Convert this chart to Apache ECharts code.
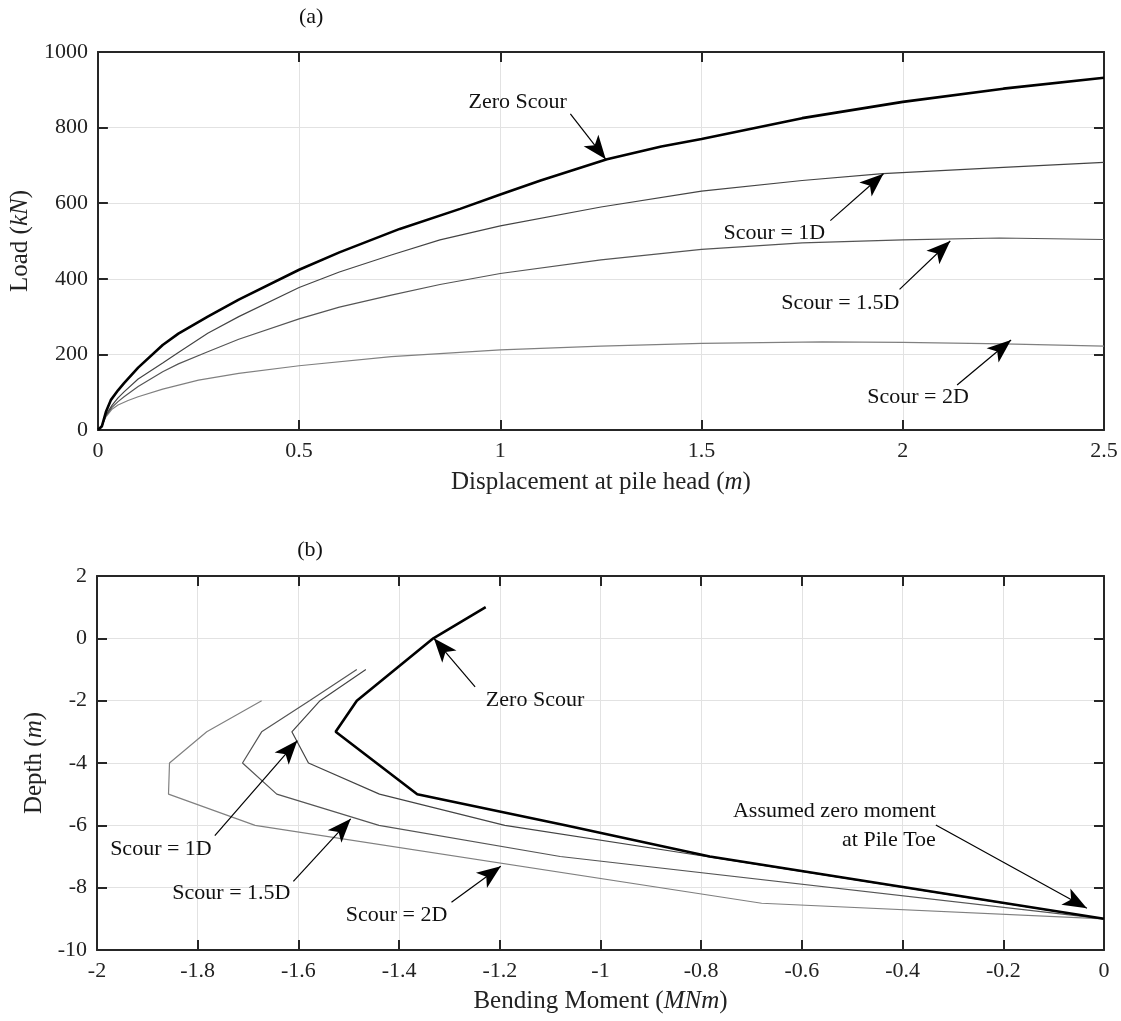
<!DOCTYPE html>
<html>
<head>
<meta charset="utf-8">
<script src="https://cdn.jsdelivr.net/npm/echarts@6/dist/echarts.min.js"></script>
<style>html,body{margin:0;padding:0;background:#fff}#c{width:1121px;height:1021px}</style>
</head>
<body>
<div id="c"></div>
<script>
// ---------- (a) Load vs displacement ----------
var zeroScourA = [[0,0],[0.01,10],[0.02,48],[0.032,79],[0.05,105],[0.065,124],[0.1,165],[0.161,225],[0.2,255],[0.273,300],[0.35,345],[0.5,424],[0.6,470],[0.75,532],[0.9,585],[1.0,623],[1.1,660],[1.265,716],[1.4,750],[1.5,770],[1.75,825],[2.0,868],[2.25,903],[2.5,932]];
var scour1DA = [[0,0],[0.01,10],[0.02,40],[0.035,65],[0.05,85],[0.065,101],[0.1,135],[0.161,177],[0.2,205],[0.273,256],[0.35,300],[0.5,377],[0.6,418],[0.729,463],[0.85,503],[1.0,540],[1.25,590],[1.5,632],[1.75,660],[1.95,678],[2.25,695],[2.5,708]];
var scour15DA = [[0,0],[0.01,10],[0.02,38],[0.035,60],[0.05,75],[0.065,88],[0.1,115],[0.161,154],[0.2,175],[0.273,207],[0.35,240],[0.5,294],[0.6,325],[0.729,357],[0.85,385],[1.0,414],[1.25,450],[1.5,478],[1.75,495],[2.0,503],[2.24,508],[2.5,504]];
var scour2DA = [[0,0],[0.01,12],[0.02,35],[0.035,55],[0.05,66],[0.075,78],[0.1,88],[0.161,108],[0.25,132],[0.35,150],[0.5,170],[0.729,194],[1.0,212],[1.25,222],[1.5,229],[1.8,233],[2.0,232],[2.25,228],[2.5,222]];

// ---------- (b) Bending moment vs depth ----------
var zeroScourB = [[-1.228,1],[-1.332,0],[-1.408,-1],[-1.484,-2],[-1.526,-3],[-1.445,-4],[-1.364,-5],[-1.07,-6],[-0.783,-7],[0,-9]];
var scour1DB = [[-1.466,-1],[-1.557,-2],[-1.613,-3],[-1.58,-4],[-1.439,-5],[-1.19,-6],[-0.79,-7],[0,-9]];
var scour15DB = [[-1.484,-1],[-1.578,-2],[-1.673,-3],[-1.711,-4],[-1.643,-5],[-1.44,-6],[-1.08,-7],[0,-9]];
var scour2DB = [[-1.673,-2],[-1.782,-3],[-1.856,-4],[-1.858,-5],[-1.686,-6],[-0.68,-8.5],[0,-9]];

// annotations: [text, textX, textY, arrowFromX, arrowFromY, arrowToX, arrowToY]
var notesA = [
  ['Zero Scour', 1.043, 868, 1.174, 836, 1.262, 716],
  ['Scour = 1D', 1.681, 520, 1.820, 554, 1.952, 678],
  ['Scour = 1.5D', 1.845, 336, 1.992, 372, 2.118, 500],
  ['Scour = 2D', 2.038, 87, 2.135, 119, 2.269, 238]
];
var notesB = [
  ['Zero Scour', -1.130, -1.98, -1.249, -1.56, -1.331, 0.0],
  ['Scour = 1D', -1.873, -6.76, -1.766, -6.33, -1.602, -3.28],
  ['Scour = 1.5D', -1.733, -8.17, -1.610, -7.8, -1.496, -5.79],
  ['Scour = 2D', -1.405, -8.87, -1.296, -8.47, -1.198, -7.31]
];
var noteToe = ['Assumed zero moment\nat Pile Toe', -0.334, -6.0, -0.334, -5.99, -0.034, -8.66];

var FONT = 'Liberation Serif';
var AX = '#262626';

function valueAxis(o) {
  var base = {
    type: 'value',
    axisLine: {show: true, onZero: false, lineStyle: {color: AX, width: 2}},
    axisTick: {show: true, inside: true, length: 10, lineStyle: {color: AX, width: 2}},
    axisLabel: {show: true, color: '#222', fontFamily: FONT, fontSize: 22, margin: 10},
    splitLine: {show: true, lineStyle: {color: '#e2e2e2', width: 1}}
  };
  for (var k in o) base[k] = o[k];
  return base;
}
function dummy(o) {
  var a = valueAxis(o);
  a.axisLabel = {show: false};
  a.splitLine = {show: false};
  return a;
}
var nameStyle = {
  fontFamily: FONT, fontSize: 25, color: '#222',
  rich: {n: {fontFamily: FONT, fontSize: 25, color: '#222'}, i: {fontFamily: FONT, fontSize: 25, color: '#222', fontStyle: 'italic'}}
};

function arrowLines(notes) {
  return notes.map(function (n) {
    return [{coord: [n[3], n[4]], symbol: 'none'}, {coord: [n[5], n[6]], symbol: 'arrow', symbolSize: [14, 24]}];
  });
}
function mkSeries(data, xi, yi, color, width, marks) {
  var s = {
    type: 'line', data: data, xAxisIndex: xi, yAxisIndex: yi,
    showSymbol: false, symbol: 'none', smooth: false, animation: false,
    lineStyle: {color: color, width: width}, z: width > 2 ? 4 : 3
  };
  if (marks) {
    s.markLine = {
      silent: true, animation: false, symbol: ['none', 'arrow'],
      label: {show: false},
      lineStyle: {color: '#000', width: 1.2, type: 'solid'},
      emphasis: {disabled: true},
      data: marks
    };
  }
  return s;
}

var chart = echarts.init(document.getElementById('c'), null, {renderer: 'canvas'});
var yLoad = valueAxis({gridIndex: 0, min: 0, max: 1000, interval: 200, position: 'left',
  name: '{n|Load (}{i|kN}{n|)}', nameLocation: 'middle', nameGap: 55, nameTextStyle: nameStyle});
yLoad.axisLabel.formatter = function (v) { return String(v); };
var option = {
  backgroundColor: '#fff',
  animation: false,
  grid: [
    {left: 97, right: 17, top: 52, height: 378, containLabel: false},
    {left: 97, right: 17, top: 576, height: 374, containLabel: false}
  ],
  xAxis: [
    valueAxis({gridIndex: 0, min: 0, max: 2.5, interval: 0.5, position: 'bottom',
      name: '{n|Displacement at pile head (}{i|m}{n|)}', nameLocation: 'middle', nameGap: 40, nameTextStyle: nameStyle}),
    dummy({gridIndex: 0, min: 0, max: 2.5, interval: 0.5, position: 'top'}),
    valueAxis({gridIndex: 1, min: -2, max: 0, interval: 0.2, position: 'bottom',
      name: '{n|Bending Moment (}{i|MNm}{n|)}', nameLocation: 'middle', nameGap: 39, nameTextStyle: nameStyle}),
    dummy({gridIndex: 1, min: -2, max: 0, interval: 0.2, position: 'top'})
  ],
  yAxis: [
    yLoad,
    dummy({gridIndex: 0, min: 0, max: 1000, interval: 200, position: 'right'}),
    valueAxis({gridIndex: 1, min: -10, max: 2, interval: 2, position: 'left',
      name: '{n|Depth (}{i|m}{n|)}', nameLocation: 'middle', nameGap: 42, nameTextStyle: nameStyle}),
    dummy({gridIndex: 1, min: -10, max: 2, interval: 2, position: 'right'})
  ],
  series: [
    mkSeries(scour2DA, 0, 0, '#808080', 1.2),
    mkSeries(scour15DA, 0, 0, '#555555', 1.2),
    mkSeries(scour1DA, 0, 0, '#444444', 1.2),
    mkSeries(zeroScourA, 0, 0, '#000000', 2.6, arrowLines(notesA)),
    mkSeries(scour2DB, 2, 2, '#808080', 1.2),
    mkSeries(scour15DB, 2, 2, '#555555', 1.2),
    mkSeries(scour1DB, 2, 2, '#444444', 1.2),
    mkSeries(zeroScourB, 2, 2, '#000000', 2.6, arrowLines(notesB.concat([noteToe])))
  ]
};
chart.setOption(option);

// text annotations positioned through the axes' own scales
var TFONT = '22px "' + FONT + '"';
var g = [];
function addText(txt, gridIndex, x, y, align) {
  var p = chart.convertToPixel({gridIndex: gridIndex}, [x, y]);
  g.push({type: 'text', x: p[0], y: p[1], z: 100,
    style: {text: txt, fill: '#111', font: TFONT, textAlign: align || 'center', textVerticalAlign: 'middle', lineHeight: 29}});
}
notesA.forEach(function (n) { addText(n[0], 0, n[1], n[2]); });
notesB.forEach(function (n) { addText(n[0], 1, n[1], n[2]); });
addText(noteToe[0], 1, noteToe[1], noteToe[2], 'right');
// panel titles
var pa = chart.convertToPixel({gridIndex: 0}, [0.53, 1000]);
var pb = chart.convertToPixel({gridIndex: 1}, [-1.577, 2]);
g.push({type: 'text', x: pa[0], y: pa[1] - 35, style: {text: '(a)', fill: '#111', font: TFONT, textAlign: 'center', textVerticalAlign: 'middle'}});
g.push({type: 'text', x: pb[0], y: pb[1] - 26, style: {text: '(b)', fill: '#111', font: TFONT, textAlign: 'center', textVerticalAlign: 'middle'}});
chart.setOption({graphic: g});
</script>
</body>
</html>
